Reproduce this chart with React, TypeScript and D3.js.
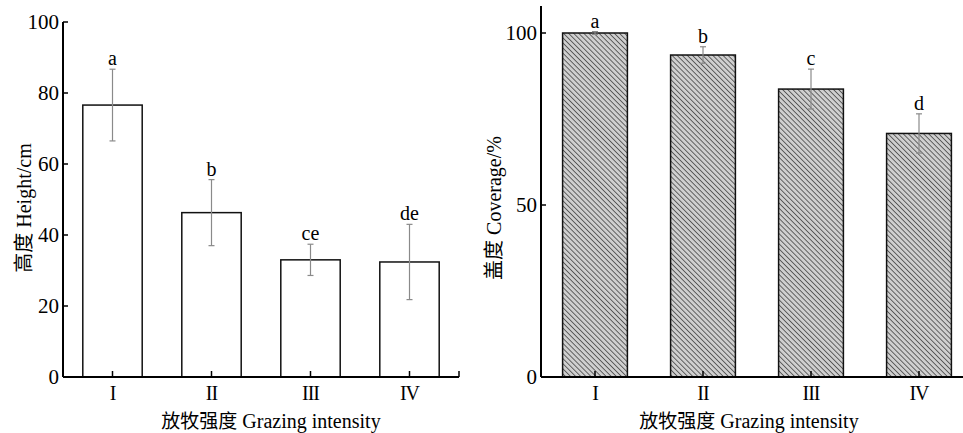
//@ts-nocheck
import * as d3 from "d3";
import { useEffect, useRef } from "react";

// grazing intensity levels
const categories = ["I", "II", "III", "IV"];

// plant height (cm)
const heightMean = [76.6, 46.3, 33.0, 32.4];
const heightErr = [10.1, 9.3, 4.4, 10.6];
const heightLetters = ["a", "b", "ce", "de"];
const heightTicks = [0, 20, 40, 60, 80, 100];

// coverage (%)
const coverMean = [100, 93.6, 83.7, 70.8];
const coverErr = [0.4, 2.4, 5.8, 5.7];
const coverLetters = ["a", "b", "c", "d"];
const coverTicks = [0, 50, 100];

const SERIF = "'Liberation Serif', 'Times New Roman', serif";
const CJK = "'Noto Sans CJK SC', sans-serif";

const App = () => {
  const svgRef = useRef(null);

  useEffect(() => {
    const svg = d3.select(svgRef.current);
    svg.selectAll("*").remove();

    // hatch pattern for the coverage bars
    const defs = svg.append("defs");
    const pat = defs.append("pattern")
      .attr("id", "hatch")
      .attr("patternUnits", "userSpaceOnUse")
      .attr("width", 3.6)
      .attr("height", 3.6)
      .attr("patternTransform", "rotate(-45)");
    pat.append("rect").attr("width", 3.6).attr("height", 3.6).attr("fill", "#cfcfcf");
    pat.append("line")
      .attr("x1", 0).attr("y1", 0).attr("x2", 0).attr("y2", 3.6)
      .attr("stroke", "#555").attr("stroke-width", 1.8);

    drawPanel(svg, {
      x0: 63, x1: 459, yTop: 22, yBottom: 377, yMax: 100, axisTop: 22,
      means: heightMean, errs: heightErr, letters: heightLetters, ticks: heightTicks,
      fill: "#fff", endTick: true,
      yTitle: ["高度", " Height/cm"], yTitleX: 24
    });

    drawPanel(svg, {
      x0: 541, x1: 973, yTop: 33, yBottom: 377, yMax: 100, axisTop: 6,
      means: coverMean, errs: coverErr, letters: coverLetters, ticks: coverTicks,
      fill: "url(#hatch)", endTick: false,
      yTitle: ["盖度", " Coverage/%"], yTitleX: 494
    });
  }, []);

  return (
    <svg ref={svgRef} width={963} height={433}
      style={{ position: "absolute", left: 0, top: 0, background: "#fff" }}></svg>
  );
};

const drawPanel = (svg, p) => {
  const g = svg.append("g");

  const x = d3.scaleBand()
    .domain(categories)
    .range([p.x0, p.x1])
    .paddingInner(0.4)
    .paddingOuter(0.2);

  const y = d3.scaleLinear()
    .domain([0, p.yMax])
    .range([p.yBottom, p.yTop]);

  // bars
  g.selectAll("rect.bar")
    .data(categories)
    .enter()
    .append("rect")
    .attr("x", d => x(d))
    .attr("y", (d, i) => y(p.means[i]))
    .attr("width", x.bandwidth())
    .attr("height", (d, i) => y(0) - y(p.means[i]))
    .attr("fill", p.fill)
    .attr("stroke", "#111")
    .attr("stroke-width", 1.5);

  // error bars
  const cx = d => x(d) + x.bandwidth() / 2;
  const err = g.selectAll("g.err")
    .data(categories)
    .enter()
    .append("g")
    .attr("stroke", "#8a8a8a")
    .attr("stroke-width", 1.2);
  err.append("line")
    .attr("x1", cx).attr("x2", cx)
    .attr("y1", (d, i) => y(p.means[i] + p.errs[i]))
    .attr("y2", (d, i) => y(p.means[i] - p.errs[i]));
  [1, -1].forEach(s => {
    err.append("line")
      .attr("x1", d => cx(d) - 3).attr("x2", d => cx(d) + 3)
      .attr("y1", (d, i) => y(p.means[i] + s * p.errs[i]))
      .attr("y2", (d, i) => y(p.means[i] + s * p.errs[i]));
  });

  // significance letters
  g.selectAll("text.sig")
    .data(categories)
    .enter()
    .append("text")
    .attr("x", cx)
    .attr("y", (d, i) => y(p.means[i] + p.errs[i]) - 4)
    .attr("text-anchor", "middle")
    .style("font-family", SERIF)
    .style("font-size", "20px")
    .text((d, i) => p.letters[i]);

  // axes
  g.append("line")
    .attr("x1", p.x0).attr("x2", p.x0)
    .attr("y1", p.axisTop).attr("y2", p.yBottom)
    .attr("stroke", "#000").attr("stroke-width", 2);
  g.append("line")
    .attr("x1", p.x0).attr("x2", p.x1)
    .attr("y1", p.yBottom).attr("y2", p.yBottom)
    .attr("stroke", "#000").attr("stroke-width", 2);

  // y ticks (pointing inward)
  g.selectAll("line.yt")
    .data(p.ticks)
    .enter()
    .append("line")
    .attr("x1", p.x0).attr("x2", p.x0 + 5)
    .attr("y1", d => y(d)).attr("y2", d => y(d))
    .attr("stroke", "#000").attr("stroke-width", 1.5);
  g.selectAll("text.yl")
    .data(p.ticks)
    .enter()
    .append("text")
    .attr("x", p.x0 - 4)
    .attr("y", d => y(d))
    .attr("dy", "0.33em")
    .attr("text-anchor", "end")
    .style("font-family", SERIF)
    .style("font-size", "21px")
    .text(d => d);

  // x ticks (pointing inward)
  g.selectAll("line.xt")
    .data(categories)
    .enter()
    .append("line")
    .attr("x1", cx).attr("x2", cx)
    .attr("y1", p.yBottom).attr("y2", p.yBottom - 6)
    .attr("stroke", "#000").attr("stroke-width", 1.5);
  if (p.endTick) {
    g.append("line")
      .attr("x1", p.x1).attr("x2", p.x1)
      .attr("y1", p.yBottom).attr("y2", p.yBottom - 6)
      .attr("stroke", "#000").attr("stroke-width", 1.5);
  }
  g.selectAll("text.xl")
    .data(categories)
    .enter()
    .append("text")
    .attr("x", cx)
    .attr("y", 400)
    .attr("text-anchor", "middle")
    .style("font-family", SERIF)
    .style("font-size", "20px")
    .style("letter-spacing", "-1px")
    .text(d => d);

  // x title
  const xt = g.append("text")
    .attr("x", (p.x0 + Math.min(p.x1, 963)) / 2 + (p.endTick ? 10 : -3))
    .attr("y", 428)
    .attr("text-anchor", "middle")
    .style("font-size", "19px");
  xt.append("tspan").style("font-family", CJK).text("放牧强度");
  xt.append("tspan").style("font-family", SERIF).style("font-size", "20px").text(" Grazing intensity");

  // y title
  const cy = 208;
  const yt = g.append("text")
    .attr("transform", "translate(" + p.yTitleX + "," + cy + ") rotate(-90)")
    .attr("text-anchor", "middle")
    .attr("dy", "0.35em")
    .style("font-size", "20px");
  yt.append("tspan").style("font-family", CJK).text(p.yTitle[0]);
  yt.append("tspan").style("font-family", SERIF).text(p.yTitle[1]);
};

export default App;
